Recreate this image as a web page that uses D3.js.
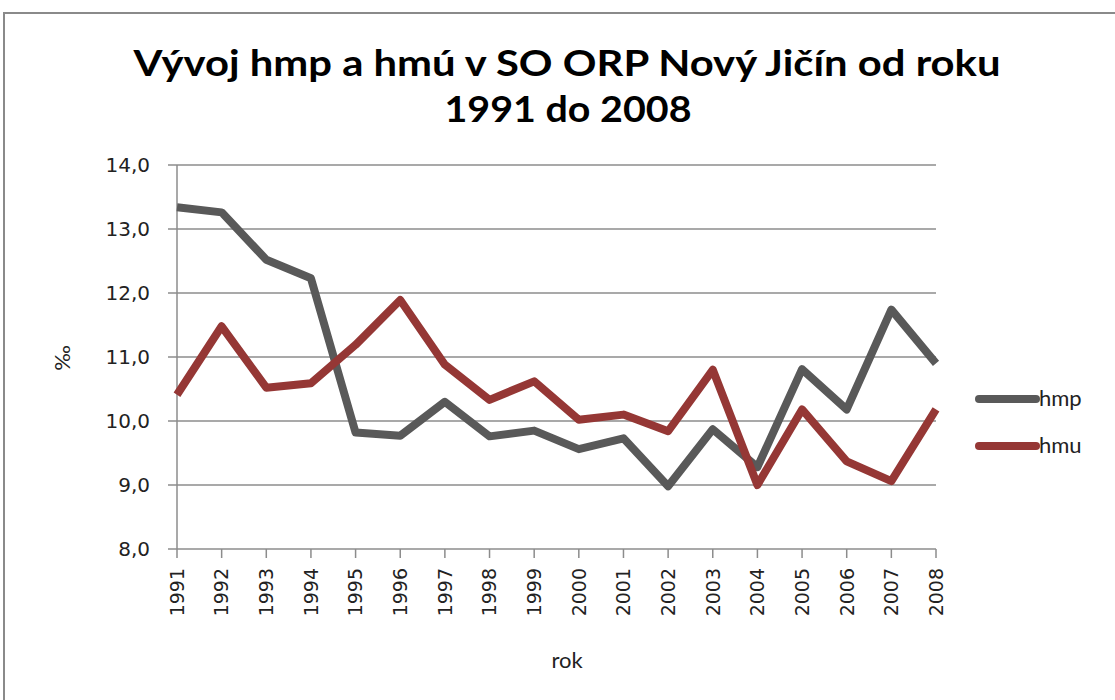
<!DOCTYPE html>
<html>
<head>
<meta charset="utf-8">
<script src="https://cdn.jsdelivr.net/npm/d3@7"></script>
<style>
  body { margin: 0; background: #fff; }
  svg { display: block; }
</style>
</head>
<body>
<div id="chart"></div>
<script>
// data
const years = [1991, 1992, 1993, 1994, 1995, 1996, 1997, 1998, 1999, 2000,
               2001, 2002, 2003, 2004, 2005, 2006, 2007, 2008];
const hmp = [13.34, 13.26, 12.52, 12.23, 9.82, 9.77, 10.30, 9.76, 9.85, 9.56,
             9.73, 8.98, 9.87, 9.28, 10.81, 10.18, 11.74, 10.90];
const hmu = [10.41, 11.48, 10.52, 10.59, 11.19, 11.89, 10.88, 10.33, 10.62, 10.02,
             10.10, 9.84, 10.80, 9.00, 10.18, 9.37, 9.06, 10.18];
const yTicks = [8, 9, 10, 11, 12, 13, 14];
const seriesNames = ["hmp", "hmu"];
const seriesColors = ["#595959", "#953735"];

const width = 1115, height = 700;
const svg = d3.select("#chart").append("svg")
  .attr("width", width).attr("height", height);

// outer chart frame
svg.append("rect")
  .attr("x", 4).attr("y", 13).attr("width", 1200).attr("height", 800)
  .attr("fill", "none").attr("stroke", "#8a8a8a").attr("stroke-width", 2);

// title
const titleFont = "Lato, 'Open Sans', sans-serif";
svg.append("text")
  .attr("x", 567).attr("y", 76).attr("text-anchor", "middle")
  .attr("font-family", titleFont).attr("font-weight", "bold").attr("font-size", 36)
  .attr("textLength", 867).attr("lengthAdjust", "spacingAndGlyphs")
  .text("Vývoj hmp a hmú v SO ORP Nový Jičín od roku");
svg.append("text")
  .attr("x", 568).attr("y", 122).attr("text-anchor", "middle")
  .attr("font-family", titleFont).attr("font-weight", "bold").attr("font-size", 36)
  .attr("textLength", 247).attr("lengthAdjust", "spacingAndGlyphs")
  .text("1991 do 2008");

// scales
const x = d3.scalePoint().domain(years).range([177, 936]);
const y = d3.scaleLinear().domain([8, 14]).range([549, 165]);

const grid = svg.append("g");

// y gridlines + tick marks
grid.selectAll("line.h")
  .data(yTicks)
  .join("line")
  .attr("class", "h")
  .attr("x1", 168).attr("x2", 936)
  .attr("y1", d => y(d)).attr("y2", d => y(d))
  .attr("stroke", "#8c8c8c").attr("stroke-width", 1.5);

// y axis line
grid.append("line")
  .attr("x1", 177).attr("x2", 177).attr("y1", y(14)).attr("y2", y(8))
  .attr("stroke", "#8c8c8c").attr("stroke-width", 1.5);

// x tick marks
grid.selectAll("line.v")
  .data(years)
  .join("line")
  .attr("class", "v")
  .attr("x1", d => x(d)).attr("x2", d => x(d))
  .attr("y1", y(8)).attr("y2", y(8) + 9)
  .attr("stroke", "#8c8c8c").attr("stroke-width", 1.5);

// y tick labels
const fmt = d => d.toFixed(1).replace(".", ",");
svg.selectAll("text.yt")
  .data(yTicks)
  .join("text")
  .attr("class", "yt")
  .attr("x", 150).attr("y", d => y(d))
  .attr("dy", "0.36em")
  .attr("text-anchor", "end")
  .attr("font-family", "'DejaVu Sans', sans-serif").attr("font-size", 20)
  .attr("fill", "#222")
  .text(fmt);

// x tick labels (rotated)
svg.selectAll("text.xt")
  .data(years)
  .join("text")
  .attr("class", "xt")
  .attr("transform", d => `translate(${x(d)},568) rotate(-90)`)
  .attr("dy", "0.36em")
  .attr("text-anchor", "end")
  .attr("font-family", "'DejaVu Sans', sans-serif").attr("font-size", 19)
  .attr("fill", "#222")
  .text(d => d);

// axis titles
svg.append("text")
  .attr("x", 567).attr("y", 668).attr("text-anchor", "middle")
  .attr("font-family", titleFont).attr("font-size", 22)
  .attr("fill", "#222")
  .text("rok");
svg.append("text")
  .attr("transform", "translate(62,358) rotate(-90)")
  .attr("dy", "0.36em")
  .attr("text-anchor", "middle")
  .attr("font-family", titleFont).attr("font-size", 22)
  .attr("fill", "#222")
  .text("‰");

// lines
const line = d3.line()
  .x((d, i) => x(years[i]))
  .y(d => y(d));

const seriesData = [hmp, hmu];
svg.selectAll("path.series")
  .data(seriesData)
  .join("path")
  .attr("class", "series")
  .attr("d", line)
  .attr("fill", "none")
  .attr("stroke", (d, i) => seriesColors[i])
  .attr("stroke-width", 8)
  .attr("stroke-linejoin", "round");

// legend
const legend = svg.selectAll("g.leg")
  .data(seriesNames)
  .join("g")
  .attr("class", "leg")
  .attr("transform", (d, i) => `translate(0,${399 + i * 47})`);
legend.append("line")
  .attr("x1", 979).attr("x2", 1036)
  .attr("stroke", (d, i) => seriesColors[i])
  .attr("stroke-width", 8)
  .attr("stroke-linecap", "round");
legend.append("text")
  .attr("x", 1039).attr("dy", "0.32em")
  .attr("font-family", titleFont).attr("font-size", 22)
  .attr("fill", "#222")
  .text(d => d);
</script>
</body>
</html>
